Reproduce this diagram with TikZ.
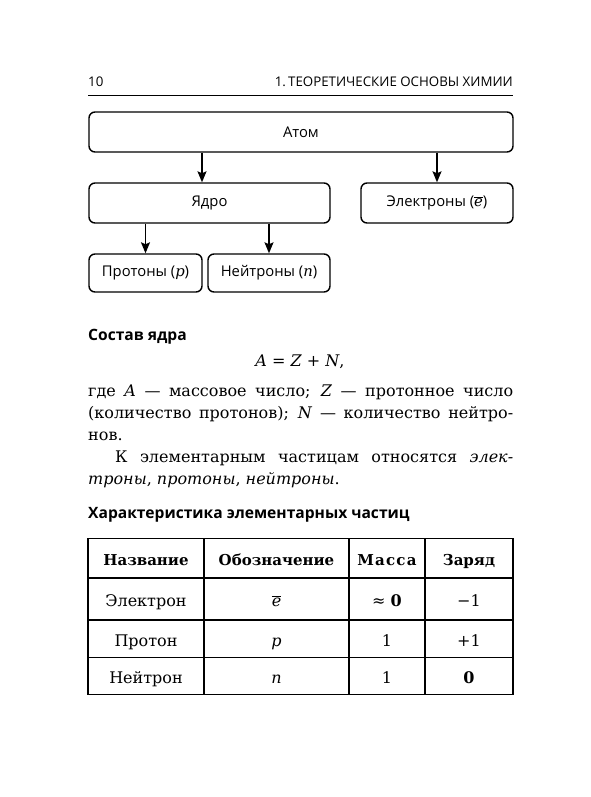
\documentclass[tikz,border=0pt]{standalone}
\usepackage{fontspec}
\setmainfont{DejaVu Serif}
\newfontfamily\sansf{Open Sans}
\usetikzlibrary{arrows.meta}
\newcommand{\ebar}{$\overline{\hbox{\rmfamily\itshape e}}$}
\newcommand{\vi}[1]{{\rmfamily\itshape #1}}
\begin{document}
\begin{tikzpicture}[x=1pt,y=-1pt,
  box/.style={draw, line width=1.4pt, rounded corners=6pt, inner sep=0pt,
    font=\sansf\fontsize{14.8}{17}\selectfont},
  arr/.style={line width=1.4pt, -{Stealth[length=11pt,width=9pt,inset=2pt]}},
  hdr/.style={inner sep=0pt, font=\sansf\fontsize{13.3}{16}\selectfont},
  sect/.style={inner sep=0pt, anchor=base west, font=\sansf\bfseries\fontsize{15.6}{18}\selectfont},
  body/.style={inner sep=0pt, font=\fontsize{16}{22}\selectfont},
  th/.style={inner sep=0pt, anchor=base, font=\bfseries\fontsize{15}{17}\selectfont},
  td/.style={inner sep=0pt, anchor=base, font=\fontsize{16}{18}\selectfont},
  tline/.style={line width=1.3pt}
]
\useasboundingbox[fill=white] (0,0) rectangle (591,797);

% header
\node[hdr, anchor=base west] (pg) at (88,87) {10};
\node[hdr, anchor=base east] (ch) at (513,87) {1.\,ТЕОРЕТИЧЕСКИЕ ОСНОВЫ ХИМИИ};
\coordinate (rl) at (88,95.5);
\coordinate (rr) at (513,95.5);
\draw[line width=1pt] (rl) -- (rr);

% diagram
\node[box, minimum width=424pt, minimum height=40pt] (atom) at (301,132) {Атом};
\node[box, minimum width=241pt, minimum height=40pt] (yadro) at (209.5,203) {Ядро};
\node[box, minimum width=152pt, minimum height=40pt] (elec) at (437,203) {Электроны (\ebar)};
\node[box, minimum width=113pt, minimum height=38pt] (prot) at (145.5,273) {Протоны (\vi{p})};
\node[box, minimum width=122pt, minimum height=38pt] (neut) at (269,273) {Нейтроны (\vi{n})};
\coordinate (a1) at (202,0);
\draw[arr] (atom.south -| a1) -- (yadro.north -| a1);
\draw[arr] (atom.south -| elec.north) -- (elec.north);
\draw[arr] (yadro.south -| prot.north) -- (prot.north);
\draw[arr] (yadro.south -| neut.north) -- (neut.north);

% composition of nucleus
\node[sect] (s1) at (88,340) {Состав ядра};
\node[body, anchor=base] (f1) at (300,366) {\textit{A} = \textit{Z} + \textit{N},};
\node[body, anchor=base west, text width=425pt, align=justify] (p1) at (88,396)
{где \textit{A} — массовое число; \textit{Z} — протонное число\linebreak
(количество протонов); \textit{N} — количество нейтро-\linebreak
нов.\par
\hspace*{27pt}К элементарным частицам относятся \textit{элек-}\linebreak
\textit{троны}, \textit{протоны}, \textit{нейтроны}.};

% table
\node[sect] (s2) at (88,518) {Характеристика элементарных частиц};
\draw[tline] (88,538.5) rectangle (513,694.5);
\draw[tline] (88,578) -- (513,578);
\draw[tline] (88,620) -- (513,620);
\draw[tline] (88,657.5) -- (513,657.5);
\draw[tline] (204,538.5) -- (204,694.5);
\draw[tline] (349,538.5) -- (349,694.5);
\draw[tline] (425,538.5) -- (425,694.5);

\node[th] (h1) at (146,565) {Название};
\node[th] (h2) at (276.5,565) {Обозначение};
\node[th] (h3) at (387,565) {\addfontfeatures{LetterSpace=8}Масса};
\node[th] (h4) at (469,565) {Заряд};

\node[td] (c11) at (146,606) {Электрон};
\node[td] (c12) at (276.5,606) {\ebar};
\node[td] (c13) at (387,606) {≈ \textbf{0}};
\node[td] (c14) at (469,606) {−1};

\node[td] (c21) at (146,646) {Протон};
\node[td] (c22) at (276.5,646) {\textit{p}};
\node[td] (c23) at (387,646) {1};
\node[td] (c24) at (469,646) {+1};

\node[td] (c31) at (146,683) {Нейтрон};
\node[td] (c32) at (276.5,683) {\textit{n}};
\node[td] (c33) at (387,683) {1};
\node[td] (c34) at (469,683) {\textbf{0}};
\end{tikzpicture}
\end{document}
